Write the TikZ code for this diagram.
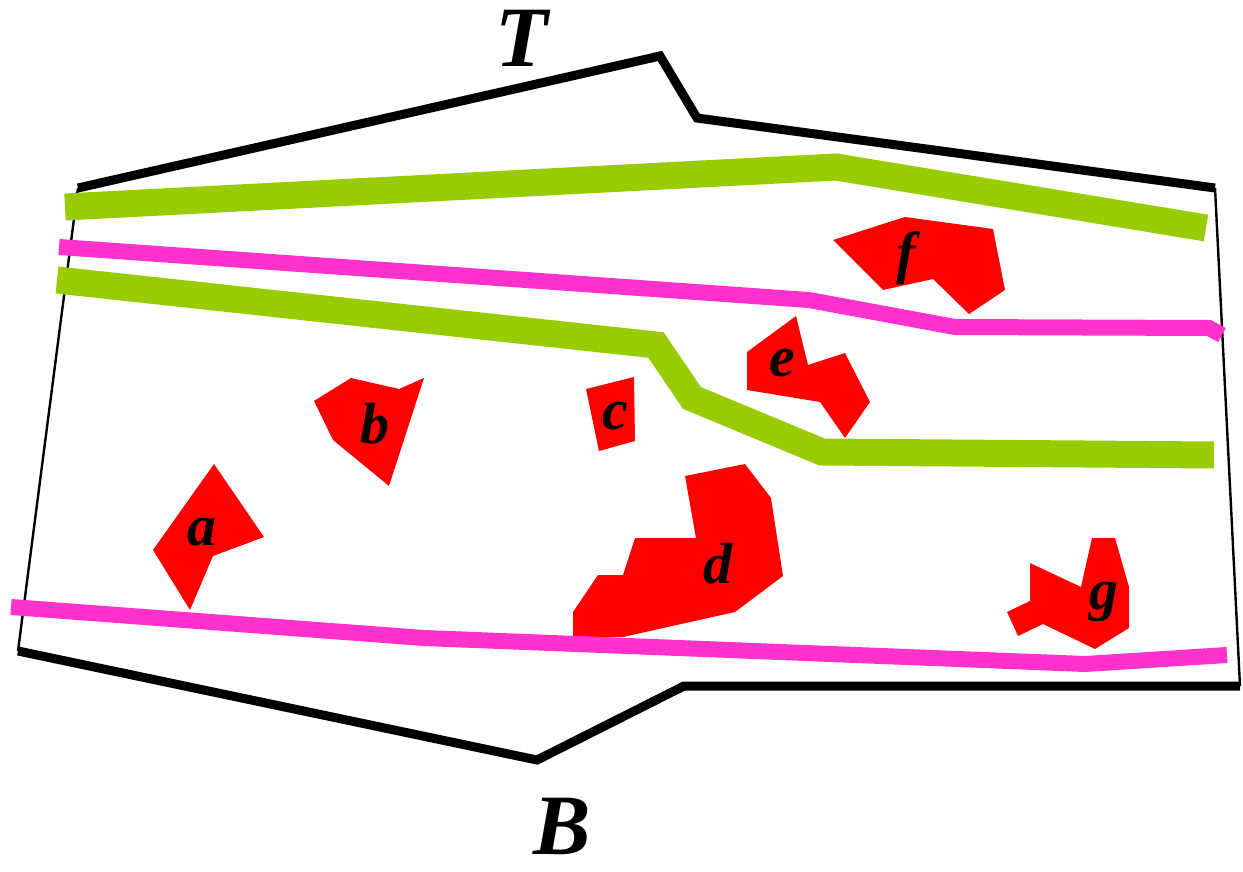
\documentclass[tikz,border=0pt]{standalone}
\usepackage{fontspec}
\setmainfont{Liberation Serif}
\definecolor{regred}{HTML}{FF0000}
\definecolor{lgreen}{HTML}{99CC00}
\definecolor{lpink}{HTML}{FF33CC}
\tikzset{
  region/.style={fill=regred, draw=none},
  greenpath/.style={draw=lgreen, line width=27pt, line cap=butt, line join=miter},
  pinkpath/.style={draw=lpink, line width=16pt, line cap=butt, line join=miter},
  thickedge/.style={draw=black, line width=9pt, line join=miter, line cap=butt},
  thinedge/.style={draw=black, line width=2.4pt},
  reglabel/.style={font=\fontsize{58}{60}\selectfont\bfseries\itshape, inner sep=0pt},
  biglabel/.style={font=\fontsize{86}{90}\selectfont\bfseries\itshape, inner sep=0pt}
}
\begin{document}
\begin{tikzpicture}[x=1pt,y=-1pt]
\useasboundingbox[fill=white] (0,0) rectangle (1243,872);
% outline
\coordinate (TL) at (78,188);
\coordinate (TP) at (660,56);
\coordinate (TN) at (697,118);
\coordinate (TR) at (1215,188);
\coordinate (BR) at (1240,686);
\coordinate (BN) at (684,686);
\coordinate (BP) at (537,760);
\coordinate (BL) at (18,651);
\draw[thinedge] (TR) -- (BR);
\draw[thinedge] (BL) -- (TL);
\draw[thickedge] (TL) -- (TP) -- (TN) -- (TR);
\draw[thickedge] (BR) -- (BN) -- (BP) -- (BL);
% regions
\fill[region] (214,464) -- (264,537) -- (213,556) -- (190,610) -- (153,550) -- cycle;
\fill[region] (351,378) -- (399,389) -- (424,378) -- (389,486) -- (333,440) -- (314,401) -- cycle;
\fill[region] (586,389) -- (634,377) -- (635,441) -- (599,451) -- cycle;
\fill[region] (685,476) -- (745,464) -- (771,498) -- (783,576) -- (735,612) -- (623,637) -- (573,637) -- (573,612) -- (598,575) -- (623,575) -- (635,538) -- (696,538) -- cycle;
\fill[region] (796,316) -- (808,365) -- (845,353) -- (870,402) -- (845,438) -- (820,402) -- (747,390) -- (747,352) -- cycle;
\fill[region] (833,240) -- (905,217) -- (993,229) -- (1005,290) -- (969,314) -- (933,279) -- (883,290) -- cycle;
\fill[region] (1092,538) -- (1115,538) -- (1129,587) -- (1129,628) -- (1095,649) -- (1043,624) -- (1018,636) -- (1007,612) -- (1030,601) -- (1030,563) -- (1081,587) -- cycle;
% paths
\coordinate (g1a) at (65,207);
\coordinate (g1b) at (836,167);
\coordinate (g1c) at (1206,228);
\draw[greenpath] (g1a) -- (g1b) -- (g1c);
\coordinate (p1a) at (59,247);
\coordinate (p1b) at (809,300);
\coordinate (p1c) at (955,327);
\coordinate (p1d) at (1209,328);
\coordinate (p1e) at (1222,335);
\draw[pinkpath] (p1a) -- (p1b) -- (p1c) -- (p1d) -- (p1e);
\coordinate (g2a) at (57,280);
\coordinate (g2b) at (656,345);
\coordinate (g2c) at (692,398);
\coordinate (g2d) at (822,452);
\coordinate (g2e) at (1214,455);
\draw[greenpath] (g2a) -- (g2b) -- (g2c) -- (g2d) -- (g2e);
\coordinate (p2a) at (11,607);
\coordinate (p2b) at (424,638);
\coordinate (p2c) at (1085,664);
\coordinate (p2d) at (1227,655);
\draw[pinkpath] (p2a) -- (p2b) -- (p2c) -- (p2d);
% labels
\node[reglabel] (la) at (202,532) {a};
\node[reglabel] (lb) at (375,424) {b};
\node[reglabel] (lc) at (615,416) {c};
\node[reglabel] (ld) at (718,564) {d};
\node[reglabel] (le) at (782,363) {e};
\node[reglabel] (lf) at (906,258) {f};
\node[reglabel] (lg) at (1104,602) {g};
\node[biglabel] (lT) at (522,38) {T};
\node[biglabel] (lB) at (562,826) {B};
\end{tikzpicture}
\end{document}
